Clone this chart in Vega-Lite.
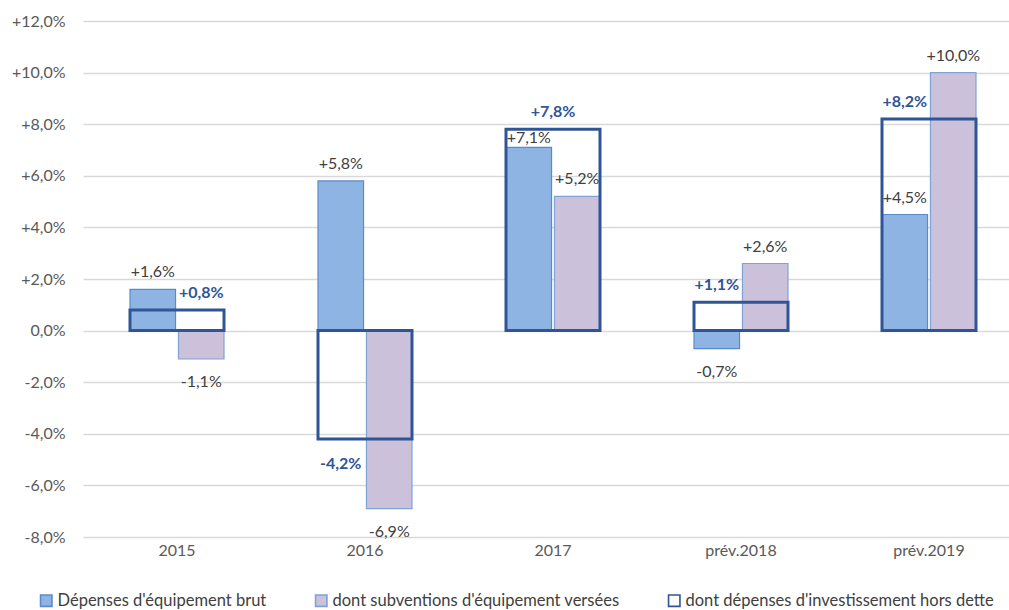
{
  "$schema": "https://vega.github.io/schema/vega-lite/v6.json",
  "autosize": "none",
  "width": 927,
  "height": 516,
  "padding": {"left": 83, "top": 21, "right": 0, "bottom": 73},
  "background": "white",
  "config": {
    "locale": {"number": {"decimal": ",", "thousands": " ", "grouping": [3], "currency": ["", " €"], "minus": "-"}},
    "font": "Lato",
    "view": {"stroke": null}
  },
  "data": {
    "values": [
      {"year": "2015", "brut": 0.016, "subv": -0.011, "invest": 0.008},
      {"year": "2016", "brut": 0.058, "subv": -0.069, "invest": -0.042},
      {"year": "2017", "brut": 0.071, "subv": 0.052, "invest": 0.078},
      {"year": "prév.2018", "brut": -0.007, "subv": 0.026, "invest": 0.011},
      {"year": "prév.2019", "brut": 0.045, "subv": 0.100, "invest": 0.082}
    ]
  },
  "encoding": {
    "x": {
      "field": "year", "type": "nominal", "sort": null,
      "scale": {"range": [0, 940], "paddingInner": 0.5, "paddingOuter": 0.25},
      "axis": {"title": null, "labelAngle": 0, "domain": false, "ticks": false, "labelPadding": 5, "labelFontSize": 16, "labelColor": "#595959"}
    },
    "y": {
      "field": "value", "type": "quantitative",
      "scale": {"domain": [-0.08, 0.12], "nice": false, "zero": true},
      "axis": {
        "title": null, "values": [-0.08, -0.06, -0.04, -0.02, 0, 0.02, 0.04, 0.06, 0.08, 0.1, 0.12],
        "format": "+.1%", "labelExpr": "datum.value == 0 ? '0,0%' : datum.label",
        "domain": false, "ticks": false, "labelPadding": 18, "labelFontSize": 16, "labelColor": "#595959",
        "gridColor": "#D9D9D9", "gridWidth": 1.3
      }
    }
  },
  "layer": [
    {
      "transform": [{"fold": ["brut", "subv"], "as": ["series", "value"]}],
      "mark": {"type": "bar", "strokeWidth": 1.2},
      "encoding": {
        "xOffset": {"field": "series", "type": "nominal", "scale": {"domain": ["brut", "subv"], "paddingInner": 0.06, "paddingOuter": 0}},
        "fill": {
          "field": "series", "type": "nominal",
          "scale": {"domain": ["brut", "subv", "invest"], "range": ["#8EB4E3", "#CCC1DA", "transparent"]},
          "legend": {
            "title": null, "orient": "none", "legendX": -45, "legendY": 571, "direction": "horizontal",
            "symbolType": "square", "symbolSize": 130, "symbolStrokeWidth": 1.6, "labelFontSize": 16.5,
            "labelColor": "#404040", "labelOffset": 3, "columnPadding": 45, "labelLimit": 400,
            "labelExpr": "datum.value == 'brut' ? \"Dépenses d'équipement brut\" : datum.value == 'subv' ? \"dont subventions d'équipement versées\" : \"dont dépenses d'investissement hors dette\""
          }
        },
        "stroke": {
          "field": "series", "type": "nominal",
          "scale": {"domain": ["brut", "subv", "invest"], "range": ["#5A8ACB", "#7FA3D6", "#2F5597"]}
        }
      }
    },
    {
      "transform": [{"fold": ["invest"], "as": ["series", "value"]}],
      "mark": {"type": "bar", "strokeWidth": 3},
      "encoding": {
        "fill": {"field": "series", "type": "nominal"},
        "stroke": {"field": "series", "type": "nominal"}
      }
    },
    {
      "transform": [{"fold": ["brut", "subv"], "as": ["series", "value"]}],
      "mark": {"type": "text", "fontSize": 16, "color": "#404040", "baseline": "middle", "dy": {"expr": "datum.value >= 0 ? ((datum.invest > datum.value && datum.invest - datum.value < 0.01) ? -9 : -17) : 23"}},
      "encoding": {
        "xOffset": {"field": "series", "type": "nominal"},
        "text": {"field": "value", "type": "quantitative", "format": "+.1%"}
      }
    },
    {
      "transform": [
        {"fold": ["invest"], "as": ["series", "value"]},
        {"filter": "datum.invest > 0 ? datum.subv > datum.invest : datum.subv < datum.invest"}
      ],
      "mark": {"type": "text", "fontSize": 16, "fontWeight": "bold", "color": "#2F5597", "baseline": "middle", "dy": {"expr": "datum.value >= 0 ? -17 : 25"}},
      "encoding": {
        "xOffset": {"datum": "brut", "type": "nominal"},
        "text": {"field": "value", "type": "quantitative", "format": "+.1%"}
      }
    },
    {
      "transform": [
        {"fold": ["invest"], "as": ["series", "value"]},
        {"filter": "!(datum.invest > 0 ? datum.subv > datum.invest : datum.subv < datum.invest) && (datum.invest > 0 ? datum.brut > datum.invest : datum.brut < datum.invest)"}
      ],
      "mark": {"type": "text", "fontSize": 16, "fontWeight": "bold", "color": "#2F5597", "baseline": "middle", "dy": {"expr": "datum.value >= 0 ? -17 : 25"}},
      "encoding": {
        "xOffset": {"datum": "subv", "type": "nominal"},
        "text": {"field": "value", "type": "quantitative", "format": "+.1%"}
      }
    },
    {
      "transform": [
        {"fold": ["invest"], "as": ["series", "value"]},
        {"filter": "!(datum.invest > 0 ? datum.subv > datum.invest : datum.subv < datum.invest) && !(datum.invest > 0 ? datum.brut > datum.invest : datum.brut < datum.invest)"}
      ],
      "mark": {"type": "text", "fontSize": 16, "fontWeight": "bold", "color": "#2F5597", "baseline": "middle", "dy": {"expr": "datum.value >= 0 ? -17 : 25"}},
      "encoding": {
        "text": {"field": "value", "type": "quantitative", "format": "+.1%"}
      }
    }
  ]
}
